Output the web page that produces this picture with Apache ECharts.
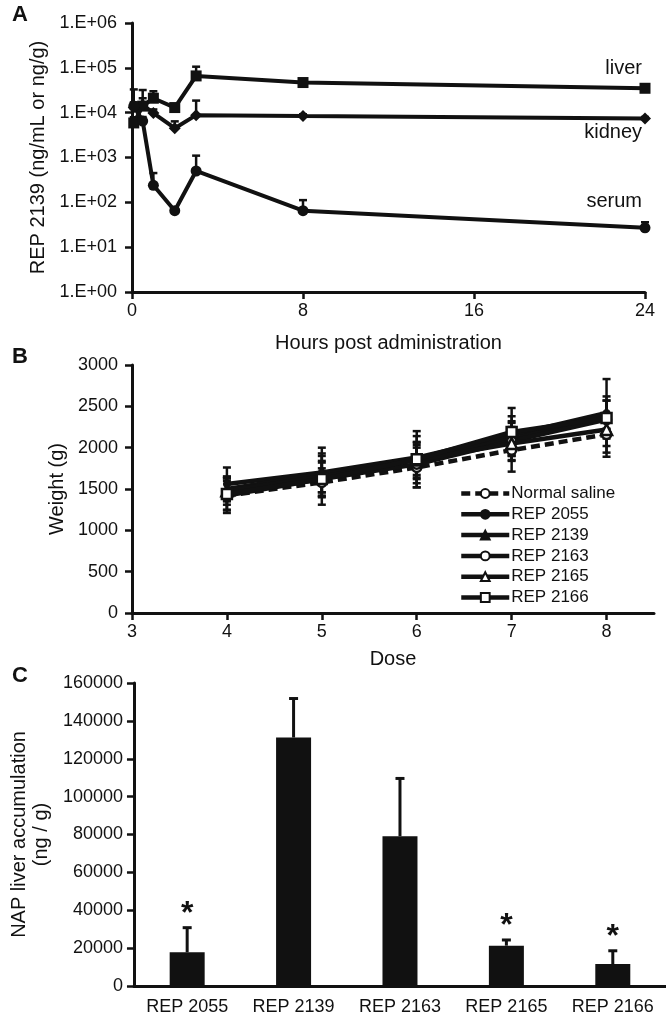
<!DOCTYPE html>
<html><head><meta charset="utf-8">
<script src="https://cdn.jsdelivr.net/npm/echarts@6/dist/echarts.min.js"></script>
<style>html,body{margin:0;padding:0;background:#fff}#c{width:666px;height:1020px}</style>
</head><body><div id="c"></div>
<script>
// ---- Panel A data ----
const hoursA = [0.083, 0.5, 1, 2, 3, 8, 24];
const liverA = [5900, 14000, 21000, 13000, 66000, 47000, 35000];
const liverErrA = [2000, 18000, 9000, 1500, 40000, 6000, 3000];
const kidneyA = [13000, 15000, 9800, 4500, 8800, 8400, 7400];
const kidneyErrA = [20000, 6000, 2000, 1900, 9800, 800, 600];
const serumA = [14000, 6500, 240, 65, 500, 65, 27];
const serumErrA = [3000, 1500, 210, 10, 600, 47, 9];
const yTickLabelsA = ['1.E+00','1.E+01','1.E+02','1.E+03','1.E+04','1.E+05','1.E+06'];
const xTicksA = [0, 8, 16, 24];

// ---- Panel B data ----
const dosesB = [4, 5, 6, 7, 8];
const seriesNamesB = ['Normal saline','REP 2055','REP 2139','REP 2163','REP 2165','REP 2166'];
const salineB = [1420, 1580, 1760, 1970, 2160];
const rep2055B = [1560, 1700, 1880, 2150, 2420];
const rep2139B = [1500, 1680, 1870, 2100, 2400];
const rep2163B = [1420, 1620, 1800, 2080, 2340];
const rep2165B = [1480, 1650, 1850, 2050, 2220];
const rep2166B = [1440, 1620, 1860, 2190, 2360];
const salineSdB = [210, 170, 240, 260, 220];
const rep2055SdB = [200, 300, 260, 230, 200];
const rep2139SdB = [150, 220, 200, 200, 170];
const rep2163SdB = [180, 200, 230, 240, 230];
const rep2165SdB = [170, 190, 210, 200, 200];
const rep2166SdB = [190, 310, 340, 290, 470];

// ---- Panel C data ----
const categoriesC = ['REP 2055','REP 2139','REP 2163','REP 2165','REP 2166'];
const valuesC = [17800, 131200, 79100, 21300, 11600];
const errC = [13000, 20600, 30500, 3000, 7000];
const sigC = [true, false, false, true, true];

const FONT = '"Liberation Sans", Arial, sans-serif';
const INK = '#111';

const chart = echarts.init(document.getElementById('c'), null, {renderer:'canvas'});

function errRenderer(upperOnly, capHalf, lw) {
  return function(params, api) {
    const x = api.value(0), mean = api.value(1), sd = api.value(2);
    const top = api.coord([x, mean + sd]);
    const bot = upperOnly ? api.coord([x, mean]) : api.coord([x, mean - sd]);
    const children = [
      {type:'line', shape:{x1:top[0], y1:top[1], x2:bot[0], y2:bot[1]}, style:{stroke:INK, lineWidth:lw}},
      {type:'line', shape:{x1:top[0]-capHalf, y1:top[1], x2:top[0]+capHalf, y2:top[1]}, style:{stroke:INK, lineWidth:lw}}
    ];
    if (!upperOnly) children.push({type:'line', shape:{x1:bot[0]-capHalf, y1:bot[1], x2:bot[0]+capHalf, y2:bot[1]}, style:{stroke:INK, lineWidth:lw}});
    return {type:'group', children};
  };
}

function errData(xs, ys, es) { return xs.map((x,i)=>[x, ys[i], es[i]]); }
function pairs(xs, ys) { return xs.map((x,i)=>[x, ys[i]]); }

const axisLineStyle = {lineStyle:{color:INK, width:3}};
const axisTickStyle = {show:true, length:7, lineStyle:{color:INK, width:2.5}};

const series = [];
// Panel A lines
const aDefs = [
  {name:'liver', d:liverA, e:liverErrA, sym:'rect', size:11},
  {name:'kidney', d:kidneyA, e:kidneyErrA, sym:'diamond', size:12},
  {name:'serum', d:serumA, e:serumErrA, sym:'circle', size:11}
];
aDefs.forEach(s=>{
  series.push({type:'custom', xAxisIndex:0, yAxisIndex:0, renderItem:errRenderer(true,4,2.5), data:errData(hoursA, s.d, s.e), z:1, silent:true});
  series.push({type:'line', name:s.name, xAxisIndex:0, yAxisIndex:0, data:pairs(hoursA, s.d), symbol:s.sym, symbolSize:s.size,
    lineStyle:{color:INK, width:4}, itemStyle:{color:INK}, z:3});
});

// Panel B
const bDefs = [
  {d:salineB, e:salineSdB, sym:'circle', size:9, open:true, dash:true},
  {d:rep2055B, e:rep2055SdB, sym:'circle', size:7, open:false},
  {d:rep2139B, e:rep2139SdB, sym:'triangle', size:8, open:false},
  {d:rep2163B, e:rep2163SdB, sym:'circle', size:9, open:true},
  {d:rep2165B, e:rep2165SdB, sym:'triangle', size:11, open:true},
  {d:rep2166B, e:rep2166SdB, sym:'rect', size:10, open:true}
];
bDefs.forEach((s,i)=>{
  series.push({type:'custom', xAxisIndex:1, yAxisIndex:1, renderItem:errRenderer(false,4,2.5), data:errData(dosesB, s.d, s.e), z:1, silent:true});
});
bDefs.forEach((s,i)=>{
  series.push({type:'line', name:seriesNamesB[i], xAxisIndex:1, yAxisIndex:1, data:pairs(dosesB, s.d),
    symbol:s.sym, symbolSize:s.size,
    lineStyle:{color:INK, width:4.5, type: s.dash ? [9,5] : 'solid'},
    itemStyle: s.open ? {color:'#fff', borderColor:INK, borderWidth:2.5} : {color:INK, borderColor:INK, borderWidth:1},
    z:3+i});
});

// Panel C
series.push({type:'bar', xAxisIndex:2, yAxisIndex:2, data:valuesC, barWidth:35, itemStyle:{color:INK}, z:2});
series.push({type:'custom', xAxisIndex:2, yAxisIndex:2, z:1,
  data: categoriesC.map((c,i)=>[i, valuesC[i], errC[i], sigC[i]?1:0]),
  renderItem:function(params, api){
    const i = api.value(0), v = api.value(1), e = api.value(2), s = api.value(3);
    const top = api.coord([i, v+e]);
    const base = api.coord([i, v]);
    const ch = [
      {type:'line', shape:{x1:top[0], y1:top[1], x2:base[0], y2:base[1]}, style:{stroke:INK, lineWidth:3}},
      {type:'line', shape:{x1:top[0]-4.5, y1:top[1], x2:top[0]+4.5, y2:top[1]}, style:{stroke:INK, lineWidth:3}}
    ];
    if (s) ch.push({type:'text', x:top[0], y:top[1]+2, style:{text:'*', font:'bold 32px '+FONT, fill:INK, align:'center', verticalAlign:'bottom'}});
    return {type:'group', children:ch};
  }});

const option = {
  animation:false,
  backgroundColor:'#fff',
  textStyle:{fontFamily:FONT, color:INK},
  grid:[
    {left:132, top:23, width:513, height:269},
    {left:132, top:365, width:522, height:248},
    {left:128, top:683, width:542, height:303}
  ],
  xAxis:[
    {type:'value', gridIndex:0, min:0, max:24, interval:8,
     axisLine:axisLineStyle, axisTick:axisTickStyle, splitLine:{show:false},
     axisLabel:{fontSize:18, color:INK, margin:10, fontFamily:FONT, formatter:v=>xTicksA.includes(v)?String(v):''},
     name:'Hours post administration', nameLocation:'middle', nameGap:41, nameTextStyle:{fontSize:20, color:INK, fontFamily:FONT}},
    {type:'value', gridIndex:1, min:3, max:8.5, interval:1,
     axisLine:axisLineStyle, axisTick:axisTickStyle, splitLine:{show:false},
     axisLabel:{fontSize:18, color:INK, margin:10, fontFamily:FONT, showMaxLabel:false, formatter:v=>Number.isInteger(v)?String(v):''},
     name:'Dose', nameLocation:'middle', nameGap:36, nameTextStyle:{fontSize:20, color:INK, fontFamily:FONT}},
    {type:'category', gridIndex:2, data:categoriesC,
     axisLine:axisLineStyle, axisTick:{show:false}, splitLine:{show:false},
     axisLabel:{fontSize:18, color:INK, margin:12, fontFamily:FONT, interval:0}}
  ],
  yAxis:[
    {type:'log', gridIndex:0, min:1, max:1e6, logBase:10, interval:1,
     axisLine:{show:true, ...axisLineStyle}, axisTick:axisTickStyle, splitLine:{show:false}, minorTick:{show:false},
     axisLabel:{fontSize:18, color:INK, margin:15, fontFamily:FONT, formatter:v=>yTickLabelsA[Math.round(Math.log10(v))]},
     name:'REP 2139 (ng/mL or ng/g)', nameLocation:'middle', nameGap:82, nameTextStyle:{fontSize:20, color:INK, fontFamily:FONT}},
    {type:'value', gridIndex:1, min:0, max:3000, interval:500,
     axisLine:{show:true, ...axisLineStyle}, axisTick:axisTickStyle, splitLine:{show:false},
     axisLabel:{fontSize:18, color:INK, margin:14, fontFamily:FONT, formatter:v=>String(v)},
     name:'Weight (g)', nameLocation:'middle', nameGap:62, nameTextStyle:{fontSize:20, color:INK, fontFamily:FONT}},
    {type:'value', gridIndex:2, min:0, max:160000, interval:20000,
     axisLine:{show:true, ...axisLineStyle}, axisTick:axisTickStyle, splitLine:{show:false},
     axisLabel:{fontSize:18, color:INK, margin:11, fontFamily:FONT, formatter:v=>String(v)},
     name:'NAP liver accumulation\n(ng / g)', nameLocation:'middle', nameGap:71, nameTextStyle:{fontSize:20, lineHeight:22, color:INK, fontFamily:FONT}}
  ],
  legend:{
    data:seriesNamesB, orient:'vertical', left:454, top:480, itemWidth:48, itemHeight:11, itemGap:3.8,
    lineStyle:{width:4.5},
    textStyle:{fontSize:17, color:INK, fontFamily:FONT, padding:[0,0,0,-3]}
  },
  graphic:[
    {type:'text', left:12, top:4, style:{text:'A', font:'bold 22px '+FONT, fill:INK}},
    {type:'text', left:12, top:346, style:{text:'B', font:'bold 22px '+FONT, fill:INK}},
    {type:'text', left:12, top:665, style:{text:'C', font:'bold 22px '+FONT, fill:INK}},
    {type:'text', right:24, top:58, style:{text:'liver', font:'20px '+FONT, fill:INK, align:'right'}},
    {type:'text', right:24, top:122, style:{text:'kidney', font:'20px '+FONT, fill:INK, align:'right'}},
    {type:'text', right:24, top:191, style:{text:'serum', font:'20px '+FONT, fill:INK, align:'right'}}
  ],
  series
};
chart.setOption(option);
</script></body></html>
